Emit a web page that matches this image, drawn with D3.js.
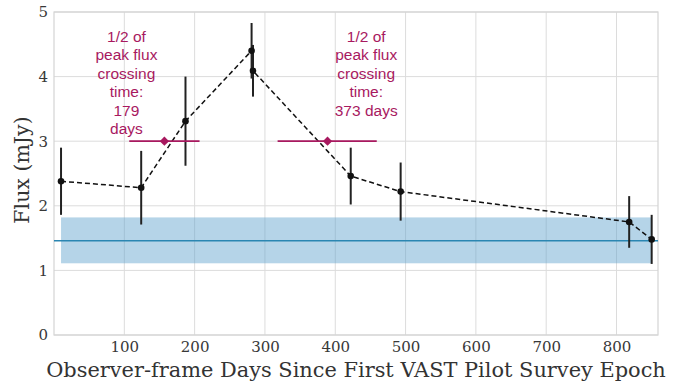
<!DOCTYPE html>
<html>
<head>
<meta charset="utf-8">
<script src="https://cdn.jsdelivr.net/npm/d3@7"></script>
<style>
  html, body { margin: 0; padding: 0; background: #fff; }
  svg { display: block; }
</style>
</head>
<body>
<svg id="chart" width="685" height="385"></svg>
<script>
// Light-curve epochs (observer-frame days) and flux densities (mJy)
const days     = [10, 124, 187, 281, 283, 422, 493, 818, 850];
const flux     = [2.38, 2.28, 3.31, 4.40, 4.09, 2.46, 2.22, 1.75, 1.48];
const fluxErr  = [0.52, 0.57, 0.69, 0.43, 0.40, 0.44, 0.45, 0.40, 0.38];

// Quiescent level and its spread
const baseLevel = [1.46];
const baseBand  = [1.11, 1.82];
const baseSpan  = [10, 850];

// Half-peak crossing estimates: [centre, lower, upper] in days, at flux 3
const crossings = [
  { day: 157, lo: 107, hi: 207, flux: 3.0 },
  { day: 389, lo: 318, hi: 459, flux: 3.0 }
];
const crossLabels = [
  ["1/2 of", "peak flux", "crossing", "time:", "179", "days"],
  ["1/2 of", "peak flux", "crossing", "time:", "373 days"]
];
const crossLabelDay = [103, 444];

const xTicks = [100, 200, 300, 400, 500, 600, 700, 800];
const yTicks = [0, 1, 2, 3, 4, 5];

const svg = d3.select("#chart");
const m = { left: 54, right: 27, top: 12, bottom: 50 };
const W = 685, H = 385;
const x = d3.scaleLinear().domain([0, 859]).range([m.left, W - m.right]);
const y = d3.scaleLinear().domain([0, 5]).range([H - m.bottom, m.top]);

const serif = "'DejaVu Serif', serif";
const sans = "'Liberation Sans', Arial, sans-serif";
const magenta = "#a8195f";

// Grid
const grid = svg.append("g").attr("stroke", "#dcdcdc").attr("stroke-width", 1);
grid.selectAll(".gx").data(xTicks).join("line")
  .attr("x1", d => x(d)).attr("x2", d => x(d))
  .attr("y1", y(0)).attr("y2", y(5));
grid.selectAll(".gy").data(yTicks).join("line")
  .attr("x1", x.range()[0]).attr("x2", x.range()[1])
  .attr("y1", d => y(d)).attr("y2", d => y(d));

// Frame
svg.append("rect")
  .attr("x", x.range()[0]).attr("y", y(5))
  .attr("width", x.range()[1] - x.range()[0]).attr("height", y(0) - y(5))
  .attr("fill", "none").attr("stroke", "#d4d4d4").attr("stroke-width", 1.2);

// Quiescent band and level
svg.append("rect")
  .attr("x", x(baseSpan[0])).attr("width", x(baseSpan[1]) - x(baseSpan[0]))
  .attr("y", y(baseBand[1])).attr("height", y(baseBand[0]) - y(baseBand[1]))
  .attr("fill", "#5a9fcb").attr("fill-opacity", 0.45);
svg.append("line")
  .attr("x1", x.range()[0]).attr("x2", x.range()[1])
  .attr("y1", y(baseLevel[0])).attr("y2", y(baseLevel[0]))
  .attr("stroke", "#2a86b2").attr("stroke-width", 1.6);

// Axes (labels only; frame drawn above)
const xAxis = svg.append("g").attr("transform", `translate(0,${y(0)})`)
  .call(d3.axisBottom(x).tickValues(xTicks).tickSize(0).tickPadding(6));
const yAxis = svg.append("g").attr("transform", `translate(${m.left},0)`)
  .call(d3.axisLeft(y).tickValues(yTicks).tickSize(0).tickPadding(6).tickFormat(d3.format("d")));
[xAxis, yAxis].forEach(a => {
  a.select(".domain").remove();
  a.selectAll("text").attr("font-family", serif).attr("font-size", 15).attr("fill", "#383838");
});

svg.append("text")
  .attr("x", 356).attr("y", 377)
  .attr("text-anchor", "middle").attr("font-family", serif).attr("font-size", 20.9)
  .attr("fill", "#333")
  .text("Observer-frame Days Since First VAST Pilot Survey Epoch");
svg.append("text")
  .attr("transform", `translate(29,170) rotate(-90)`)
  .attr("text-anchor", "middle").attr("font-family", serif).attr("font-size", 20.5)
  .attr("fill", "#333")
  .text("Flux (mJy)");

// Light curve
const pts = days.map((d, i) => ({ d, f: flux[i], e: fluxErr[i] }));
svg.append("path").datum(pts)
  .attr("d", d3.line().x(p => x(p.d)).y(p => y(p.f)))
  .attr("fill", "none").attr("stroke", "#111").attr("stroke-width", 1.5)
  .attr("stroke-dasharray", "5,3");
svg.selectAll(".err").data(pts).join("line")
  .attr("x1", p => x(p.d)).attr("x2", p => x(p.d))
  .attr("y1", p => y(p.f - p.e)).attr("y2", p => y(p.f + p.e))
  .attr("stroke", "#222").attr("stroke-width", 2);
svg.selectAll(".pt").data(pts).join("circle")
  .attr("cx", p => x(p.d)).attr("cy", p => y(p.f)).attr("r", 3.3)
  .attr("fill", "#111");

// Half-peak crossing markers
svg.selectAll(".cr").data(crossings).join("line")
  .attr("x1", c => x(c.lo)).attr("x2", c => x(c.hi))
  .attr("y1", c => y(c.flux)).attr("y2", c => y(c.flux))
  .attr("stroke", magenta).attr("stroke-width", 1.8);
svg.selectAll(".dm").data(crossings).join("path")
  .attr("d", d3.symbol().type(d3.symbolDiamond2).size(55))
  .attr("transform", c => `translate(${x(c.day)},${y(c.flux)})`)
  .attr("fill", magenta);

crossLabels.forEach((lines, i) => {
  const t = svg.append("text")
    .attr("text-anchor", "middle").attr("font-family", sans).attr("font-size", 15.5)
    .attr("fill", magenta);
  lines.forEach((s, j) => {
    t.append("tspan").attr("x", x(crossLabelDay[i])).attr("y", 42 + j * 18.4).text(s);
  });
});
</script>
</body>
</html>
